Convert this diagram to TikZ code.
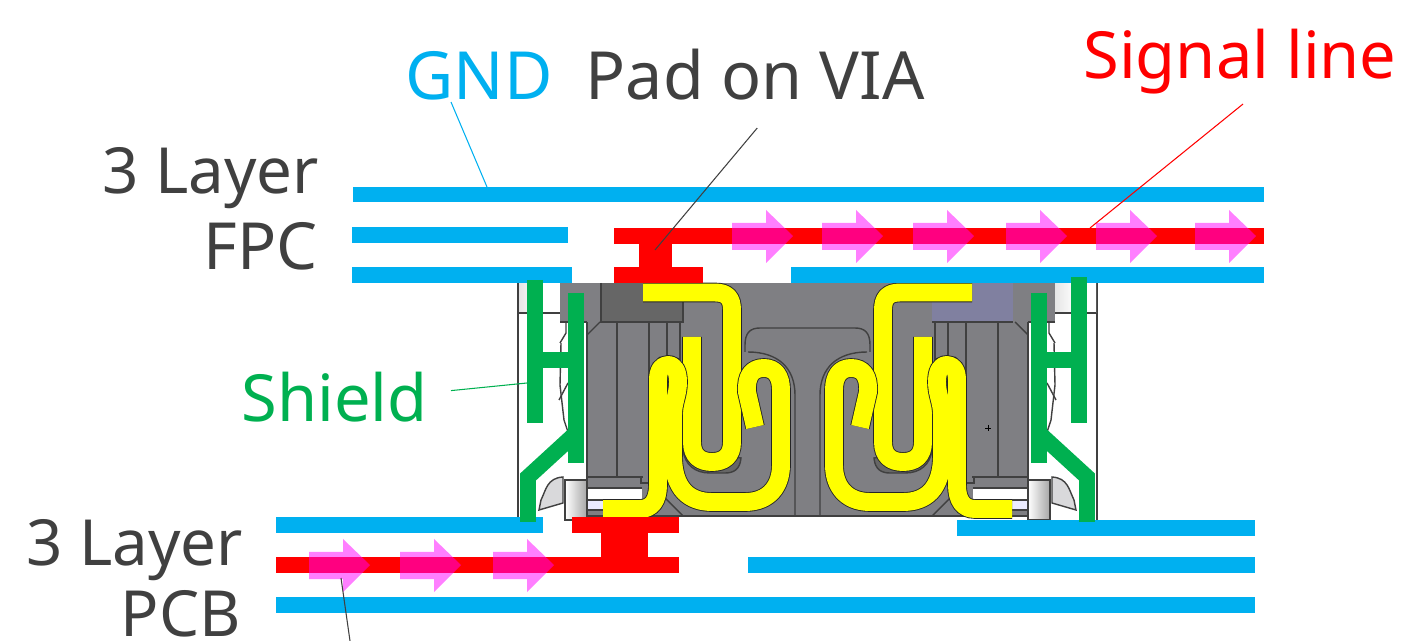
\documentclass[tikz,border=0pt]{standalone}
\usepackage{fontspec}
\setmainfont{Noto Sans}
\usetikzlibrary{positioning}
\definecolor{gndblue}{HTML}{00B0F0}
\definecolor{shieldgreen}{HTML}{00B050}
\definecolor{bodygrey}{HTML}{7F7F83}
\definecolor{blockblue}{HTML}{8080A0}
\definecolor{labelgrey}{HTML}{404040}
\definecolor{leadyellow}{HTML}{FFFF00}
\definecolor{arrowpink}{HTML}{FF00FF}
\definecolor{signalred}{HTML}{FF0000}
\tikzset{
	label text/.style={font=\fontsize{37}{40}\selectfont,text=labelgrey,inner sep=0pt,anchor=base east},
	big text/.style={font=\fontsize{37.8}{40}\selectfont},
	small text/.style={font=\fontsize{36.2}{40}\selectfont},
	leader/.style={line width=0.6pt},
	outline/.style={line width=0.8pt,draw=black!75},
	lead/.style={line width=10.2pt,leadyellow,preaction={draw=black!85,line width=11.2pt}},
	shield/.style={line width=9pt,shieldgreen},
	pinkarrow/.style={fill=arrowpink,fill opacity=0.5},
}
% one half of the connector, drawn for the left side
\newcommand{\halfbody}{
	\fill[white] (518,283) rectangle (587,520);
	\draw[outline] (518,283) -- (518,520);
	\shade[left color=black!10,right color=white,middle color=white] (519,283) rectangle (560,313);
	\draw[outline] (519,313) -- (560,313);
	\fill[bodygrey] (560,283) rectangle (808,322);
	\fill[bodygrey] (587,322) rectangle (808,516);
	\draw[outline] (560,322) -- (587,322);
	\draw[outline] (600,322) -- (587,335);
	\draw[outline] (560,343) -- (566,333) -- (566,322);
	\draw[outline] (587,322) -- (587,516);
	\draw[outline] (617,322) -- (617,477);
	\draw[outline] (649,322) -- (649,477);
	\draw[outline] (667,322) -- (667,355);
	\draw[outline] (680,322) -- (680,420);
	\fill[black!60] (683,363) rectangle (686,422);
	\draw[outline] (587,477) -- (643,477);
	\draw[outline] (641,477) -- (641,483) -- (650,483);
	\fill[white] (587,488) rectangle (642,500);
	\fill[blue!8] (587,500) rectangle (603,510);
	\draw[outline] (587,488) -- (642,488) (587,500) -- (603,500) (587,510) -- (603,510);
	\draw[outline] (657,490) -- (683,516);
	\shade[left color=white,right color=black!35] (565,480) rectangle (587,520);
	\draw[outline] (565,480) -- (565,520) -- (587,520) -- (587,480) -- cycle;
	\draw[outline,fill=blue!5!black!15] (563,477) .. controls (547,478) and (546,490) .. (541,500) -- (539,510) -- (563,503) -- cycle;
	\draw[outline] (561,343) -- (560,385) -- (564,420) -- (568,432);
	\draw[outline] (568,383) -- (559,400);
	\draw[outline] (808,328) -- (760,328) .. controls (750,328) and (745,333) .. (745,345) -- (745,352);
	\draw[outline] (748,352) .. controls (778,352) and (795,368) .. (795,395) -- (795,516);
	\draw[outline,fill=black!60] (683,450) .. controls (685,465) and (695,473) .. (710,473) -- (725,473) .. controls (733,473) and (740,470) .. (741,458) -- cycle;
	\draw[outline] (587,516) -- (808,516);
}
\newcommand{\halflead}{
	\draw[lead,line join=round] (643,292.5) -- (715,292.5) .. controls (727,292.5) and (732,298) .. (732,310) -- (732,442) .. controls (732,456) and (724,462) .. (712,462) .. controls (700,462) and (692,456) .. (692,442) -- (692,337);
	\draw[lead,line join=round] (603,509) -- (640,509) .. controls (652,509) and (658,500) .. (658,485) -- (658,380) .. controls (658,370) and (662,365) .. (668,365) .. controls (675,365) and (678,372) .. (678,382) .. controls (678,395) and (673,402) .. (673,415) -- (673,455) .. controls (673,490) and (690,502) .. (712,502) -- (745,502) .. controls (770,502) and (781,485) .. (781,465) -- (781,390) .. controls (781,376) and (775,368) .. (764,368) .. controls (752,368) and (746,376) .. (747,392) -- (755,427);
}
\newcommand{\halfshield}{
	\draw[shield] (576,293) -- (576,463);
	\draw[shield] (535,360) -- (576,360);
	\draw[shield] (576,433) -- (528,477) -- (528,522);
}
\begin{document}
\begin{tikzpicture}[x=0.02cm,y=-0.02cm]
	\useasboundingbox (0,0) rectangle (1403,641);
	% connector body
	\halfbody
	\begin{scope}[shift={(1615,0)},xscale=-1]
		\halfbody
	\end{scope}
	\fill[black!60] (601,283) rectangle (683,322);
	\draw[outline] (601,283) -- (601,322) -- (683,322) -- (683,283);
	\fill[blockblue] (932,283) rectangle (1013,322);
	\draw[outline] (932,322) -- (1013,322);
	\draw (985,428) -- (991,428) (988,425) -- (988,431);
	% leads
	\halflead
	\begin{scope}[shift={(1615,0)},xscale=-1]
		\halflead
	\end{scope}
	% FPC layers
	\fill[gndblue] (353,187) rectangle (1264,202);
	\fill[gndblue] (352,227) rectangle (568,243);
	\fill[gndblue] (352,267) rectangle (572,283);
	\fill[gndblue] (791,267) rectangle (1264,283);
	\fill[signalred] (614,228) rectangle (1264,244);
	\fill[signalred] (639,244) rectangle (672,267);
	\fill[signalred] (614,267) rectangle (703,283);
	% PCB layers
	\fill[gndblue] (276,517) rectangle (543,533);
	\fill[gndblue] (957,520) rectangle (1255,536);
	\fill[gndblue] (748,557) rectangle (1255,573);
	\fill[gndblue] (276,597) rectangle (1255,613);
	\fill[signalred] (572,517) rectangle (679,533);
	\fill[signalred] (601,533) rectangle (648,557);
	\fill[signalred] (276,557) rectangle (679,573);
	% shield
	\draw[shield] (535,280) -- (535,423);
	\halfshield
	\draw[shield] (1079,277) -- (1079,423);
	\begin{scope}[shift={(1615,0)},xscale=-1]
		\halfshield
	\end{scope}
	% signal direction
	\foreach \x in {732,822,913,1006,1096,1195}
		\fill[pinkarrow] (\x,223) -- (\x+34,223) -- (\x+34,210) -- (\x+61,236) -- (\x+34,263) -- (\x+34,250) -- (\x,250) -- cycle;
	\foreach \x in {309,400,493}
		\fill[pinkarrow] (\x,552) -- (\x+34,552) -- (\x+34,539) -- (\x+61,565) -- (\x+34,592) -- (\x+34,579) -- (\x,579) -- cycle;
	% labels
	\node[label text,small text] (fpcone) at (319,194) {3 Layer};
	\node[label text] (fpctwo) at (318,270) {FPC};
	\node[label text,small text] (pcbone) at (243,565) {3 Layer};
	\node[label text,small text] (pcbtwo) at (241,636) {PCB};
	\node[label text,big text,text=gndblue] (gnd) at (553,100) {GND};
	\node[label text,big text] (via) at (925,100) {Pad on VIA};
	\node[label text,text=signalred] (signal) at (1397,79) {Signal line};
	\node[label text,text=shieldgreen] (shieldlabel) at (428,422) {Shield};
	% leaders
	\coordinate (gndend) at (487,187);
	\coordinate (viaend) at (655,250);
	\coordinate (signalend) at (1090,228);
	\coordinate (shieldend) at (527,383);
	\coordinate (pcbstart) at (341,578);
	\coordinate (pcbend) at (350,641);
	\draw[leader,gndblue] ([shift={(46,1)}]gnd.south west) -- (gndend);
	\draw[leader,labelgrey] ([shift={(2,27)}]via.south) -- (viaend);
	\draw[leader,signalred] ([shift={(3,9)}]signal.south) -- (signalend);
	\draw[leader,shieldgreen] ([shift={(23,-7)}]shieldlabel.east) -- (shieldend);
	\draw[leader,labelgrey] (pcbstart) -- (pcbend);
\end{tikzpicture}
\end{document}
